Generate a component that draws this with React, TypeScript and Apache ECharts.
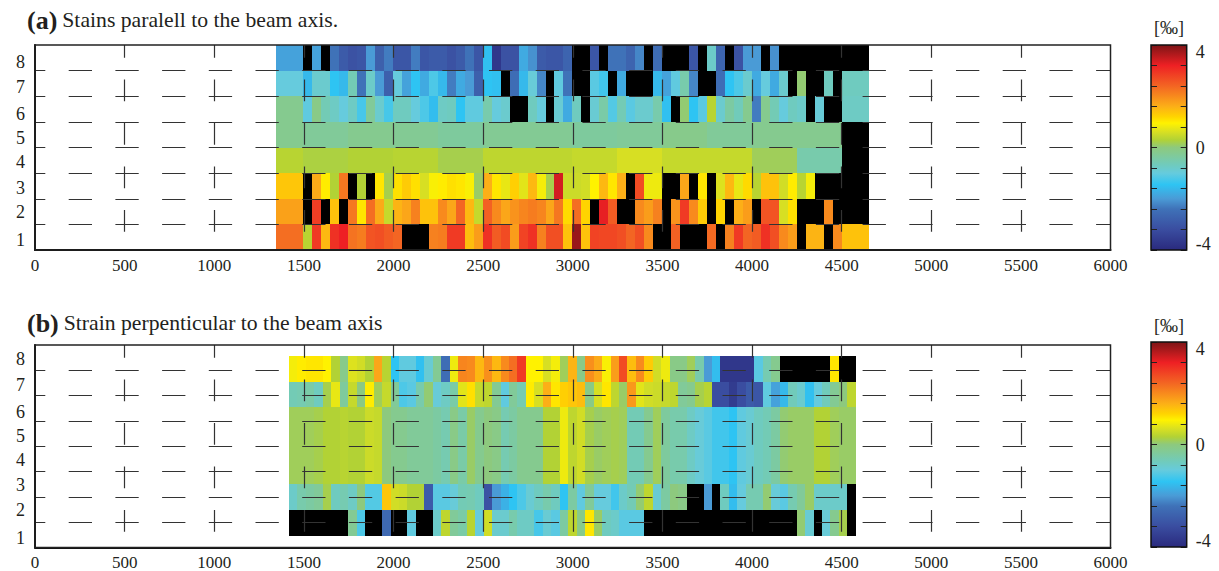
import React, { useEffect, useRef } from "react";
import * as echarts from "echarts";

// null = out of range (drawn black)
const _ = null;
const xTicksMax = 6000;
const aStart = 1345, aStep = 50.1;
const bStart = 1417, bStep = 47.2;

const aRow1 = [2.3,2.3,2.3,0.35,2.9,1.5,3.0,3.2,2.25,2.15,2.6,2.65,2.5,2.4,_,_,_,2.1,2.15,2.9,2.9,1.45,1.8,3.0,2.5,2.7,1.8,2.8,3.0,2.1,2.65,2.65,1.4,3.8,1.4,2.8,2.75,2.75,2.65,2.4,2.65,2.0,_,_,2.45,_,_,_,2.35,_,2.1,2.9,2.4,2.5,3.0,2.65,2.0,1.8,_,1.55,1.55,_,2.0,1.4,1.4,1.4];
const aRow2 = [1.75,1.75,1.75,_,2.85,_,1.4,_,2.2,1.05,2.3,1.65,0.45,1.55,1.7,2.1,1.4,1.4,2.0,1.7,2.4,1.5,0.45,2.45,2.0,1.7,1.9,2.05,2.15,2.05,1.7,2.2,1.15,2.3,1.2,_,3.25,2.5,_,_,2.0,1.8,2.1,_,1.9,2.9,2.0,1.3,_,1.2,_,1.6,1.8,_,2.6,2.6,0.6,1.1,_,_,_,2.0,_,_,_,_];
const aRow3 = [1.35,1.35,1.35,_,1.65,1.0,0.3,2.2,_,0.3,_,1.05,0.2,1.1,1.3,1.1,0.6,0.9,1.0,1.1,1.05,0.9,0.1,1.6,1.05,0.75,1.25,0.7,1.5,0.85,0.2,3.4,0.5,0.5,0.55,0.95,1.5,1.05,1.6,_,2.7,0.8,0.8,_,_,1.7,_,1.05,_,0.65,1.5,0.75,1.15,0.35,1.4,1.4,0.55,1.0,0.35,0.85,_,_,_,_,_,_];
const aRow4 = [0.35,0.35,0.35,0.25,0.25,0.25,0.25,0.25,0.3,0.3,0.3,0.3,0.3,0.35,0.35,0.35,0.35,0.35,0.2,0.2,0.2,0.2,0.2,0.4,0.4,0.4,0.4,0.4,0.4,0.4,0.4,0.4,0.4,0.45,0.45,0.45,0.45,0.45,0.6,0.6,0.6,0.6,0.6,0.45,0.45,0.45,0.45,0.45,0.45,0.45,0.45,0.45,0.45,0.15,0.15,0.15,0.15,0.15,-0.5,-0.5,-0.5,-0.5,-0.5,_,_,_];
const aRow5 = [-0.2,-0.2,-0.2,-0.3,-0.3,-0.3,-0.3,-0.3,-0.2,-0.2,-0.2,-0.2,-0.2,-0.25,-0.25,-0.25,-0.25,-0.25,-0.35,-0.35,-0.35,-0.35,-0.35,-0.25,-0.25,-0.25,-0.25,-0.25,-0.25,-0.25,-0.25,-0.25,-0.25,-0.35,-0.35,-0.35,-0.35,-0.35,-0.3,-0.3,-0.3,-0.3,-0.3,-0.15,-0.15,-0.15,-0.15,-0.15,-0.3,-0.3,-0.3,-0.3,-0.3,-0.2,-0.2,-0.2,-0.2,-0.2,-0.2,-0.2,-0.2,-0.2,-0.2,_,_,_];
const aRow6 = [-0.2,-0.2,-0.2,-1.05,-0.1,-0.6,-0.75,-1.0,-0.75,-1.25,-0.3,-0.85,-1.25,-0.7,-0.7,-1.0,-1.2,-1.55,-0.75,-0.7,-1.45,-1.05,-1.05,-0.5,-1.0,-0.85,_,_,-0.7,-1.0,_,-0.9,-1.8,-0.7,_,-0.9,-0.45,-1.15,-0.6,-1.1,-0.85,-0.85,-0.5,-1.5,_,0.05,-1.45,-1.1,0.35,-0.85,-0.4,-0.65,-0.2,-2.3,-0.2,-0.6,-1.0,-0.7,-0.8,_,-0.95,_,_,-0.75,-0.75,-0.75];
const aRow7 = [-1.0,-1.0,-1.0,-1.6,-0.85,-0.85,-1.45,-1.6,-0.6,-2.4,-0.8,-2.0,-2.8,-1.0,-1.9,-1.45,-1.8,-1.2,-1.6,-2.3,-1.8,-2.0,-2.8,-1.45,-1.5,_,-2.5,-1.6,-0.95,-2.2,_,-1.05,-2.4,_,_,-1.1,-1.3,_,-1.8,_,_,_,-1.6,-1.9,-1.05,-0.5,-2.2,_,_,-2.5,-1.45,-1.2,-0.85,-1.8,-1.0,-1.8,-0.85,_,0.05,_,_,-0.7,_,-0.7,-0.7,-0.7];
const aRow8 = [-1.9,-1.9,-1.9,_,-1.9,_,-2.4,-2.9,-3.1,-3.0,-2.0,-2.8,-2.3,-3.0,-3.0,-2.3,-3.0,-2.9,-2.9,-3.1,-2.9,-2.4,-3.0,-1.5,-3.7,-3.1,-3.1,-1.8,-2.1,-2.9,-3.0,-3.0,-2.7,_,_,-3.0,_,-2.4,-2.4,-2.7,-2.2,_,-2.5,_,_,_,-3.0,_,-0.8,-2.7,_,-3.1,-2.0,-2.0,_,-2.1,_,_,_,_,_,_,_,_,_,_];
const aRows = [aRow1, aRow2, aRow3, aRow4, aRow5, aRow6, aRow7, aRow8];

const bRow1 = [_,_,_,_,_,_,_,-0.25,-1.2,_,_,-2.6,_,_,-1.05,_,_,-0.8,0.4,-0.3,-0.45,0.35,-1.0,0.55,-0.85,-0.85,-0.5,-0.75,-0.75,-1.25,-0.9,-1.1,-0.4,0.4,-0.15,1.05,0.1,-0.7,-0.8,-1.1,-1.1,-1.1,_,_,_,_,_,_,_,_,_,_,_,_,_,_,_,_,_,_,0.05,-0.9,_,-0.95,-0.2,0.2,_];
const bRow2 = [-0.8,-0.5,-0.4,-0.3,0.2,-0.7,-0.55,-0.75,0.0,-1.15,-1.15,1.35,0.55,0.5,0.3,0.3,-2.9,-1.1,-1.1,-0.95,-0.6,-0.55,-0.7,-3.1,-2.0,-1.7,-1.45,-1.2,-0.9,-0.7,-0.5,-0.7,-1.45,-0.4,-1.05,-0.3,-1.0,-1.0,-1.3,-0.8,-0.6,0.05,0.4,-0.9,-0.4,0.0,-0.1,_,_,-2.0,_,-0.7,-1.55,-1.0,-0.55,-0.55,0.05,-0.95,-1.1,-0.55,-0.3,0.1,-0.8,-0.8,-0.8,-0.8,_];
const bRow3 = [0.15,0.15,0.15,0.2,0.3,0.3,0.35,0.3,0.3,0.5,0.45,0.0,-0.2,-0.2,-0.3,-0.3,-0.3,-0.4,-0.55,-0.1,-0.45,0.1,-0.2,0.0,-0.1,-0.55,-0.4,-0.2,-0.2,-0.2,0.3,0.3,0.8,0.4,0.55,0.2,0.1,0.15,0.2,0.15,-0.6,-0.6,-0.2,0.15,-0.35,-0.5,-0.5,-0.75,-0.95,-1.1,-1.3,-1.3,-1.45,-1.05,-0.9,-0.7,-0.6,-0.4,0.05,0.1,0.1,0.1,0.3,0.3,0.15,0.1,0.1];
const bRow4 = [0.15,0.15,0.15,0.2,0.3,0.3,0.35,0.3,0.3,0.5,0.45,0.0,-0.2,-0.2,-0.3,-0.3,-0.3,-0.4,-0.55,-0.1,-0.45,0.1,-0.2,0.0,-0.1,-0.55,-0.4,-0.2,-0.2,-0.2,0.3,0.3,0.8,0.4,0.55,0.2,0.1,0.15,0.2,0.15,-0.6,-0.6,-0.2,0.15,-0.35,-0.5,-0.5,-0.75,-0.95,-1.1,-1.3,-1.3,-1.45,-1.05,-0.9,-0.7,-0.6,-0.4,0.05,0.1,0.1,0.1,0.3,0.3,0.15,0.1,0.1];
const bRow5 = [0.15,0.15,0.15,0.2,0.3,0.3,0.35,0.3,0.3,0.5,0.45,0.0,-0.2,-0.2,-0.3,-0.3,-0.3,-0.4,-0.55,-0.1,-0.45,0.1,-0.2,0.0,-0.1,-0.55,-0.4,-0.2,-0.2,-0.2,0.3,0.3,0.8,0.4,0.55,0.2,0.1,0.15,0.2,0.15,-0.6,-0.6,-0.2,0.15,-0.35,-0.5,-0.5,-0.75,-0.95,-1.1,-1.3,-1.3,-1.45,-1.05,-0.9,-0.7,-0.6,-0.4,0.05,0.1,0.1,0.1,0.3,0.3,0.15,0.1,0.1];
const bRow6 = [-0.6,-0.55,-0.45,-0.7,0.2,0.75,-0.35,0.45,-0.05,1.0,0.15,0.45,-0.3,-1.2,-1.1,-0.5,0.05,-0.95,-0.75,-0.45,0.7,1.1,0.45,0.4,-0.25,-1.05,-0.3,-0.55,1.0,0.6,1.6,1.05,1.25,1.35,1.45,-0.1,0.6,1.05,0.4,0.1,1.85,0.7,0.55,0.5,0.45,0.4,-0.3,-0.2,0.2,0.35,-3.2,-3.2,-3.6,-3.2,-2.9,-3.0,-1.05,-1.9,-1.6,-0.65,-0.85,-1.5,-1.0,-0.65,-0.25,0.0,0.4];
const bRow7 = [0.85,1.0,1.05,1.05,0.95,0.3,-0.15,0.65,0.55,0.3,1.7,0.35,-1.45,-1.05,-1.05,-1.5,-0.9,-0.25,-2.5,0.8,2.05,2.0,1.5,1.95,1.5,2.0,2.3,2.9,0.95,0.95,0.6,0.85,0.15,1.55,-0.1,1.95,1.65,0.9,1.8,2.7,1.45,2.0,1.3,0.55,0.8,-0.1,-0.1,0.15,-0.5,-2.0,-1.55,-3.7,-3.7,-3.7,-3.7,-1.1,-0.55,-0.2,_,_,_,_,_,_,1.05,_,_];
const bRows = [bRow1, bRow2, bRow3, bRow4, bRow5, bRow6, bRow7];

const rowLabels = ["1", "2", "3", "4", "5", "6", "7", "8"];
const aLabelPositions = [0.39, 1.48, 2.42, 3.43, 4.37, 5.31, 6.36, 7.35];
const bLabelPositions = [0.37, 1.47, 2.45, 3.45, 4.41, 5.37, 6.42, 7.44];
const scaleLabelPositions = [3.72, 0, -3.78];
const scaleLabels = ["4", "0", "-4"];
const scaleExtent = [[-4, 4]];

const colourStops: [number, string][] = [
  [-4, "#2a2a7e"], [-3.2, "#3a4da0"], [-2.4, "#3f72b8"], [-2.0, "#4a9bd6"],
  [-1.45, "#2ec4f3"], [-1.0, "#66cbdd"], [-0.7, "#6fcbbf"], [-0.2, "#85ca8f"],
  [0, "#8dc97e"], [0.3, "#b2d235"], [0.6, "#d7df23"], [0.95, "#fff200"],
  [1.2, "#ffd400"], [1.6, "#fcaf17"], [2.4, "#f36523"], [3.2, "#ee2024"], [4, "#7d1416"],
];

function hex(c: string) {
  return [1, 3, 5].map((i) => parseInt(c.slice(i, i + 2), 16));
}
function colourOf(v: number) {
  if (v == null || Number.isNaN(v)) return "#000000";
  for (let i = 1; i < colourStops.length; i++) {
    const [v0, c0] = colourStops[i - 1];
    const [v1, c1] = colourStops[i];
    if (v <= v1) {
      const t = Math.max(0, (v - v0) / (v1 - v0));
      const a = hex(c0), b = hex(c1);
      return `rgb(${a.map((x, k) => Math.round(x + (b[k] - x) * t)).join(",")})`;
    }
  }
  return colourStops[colourStops.length - 1][1];
}

const SERIF = "'Liberation Serif', 'Times New Roman', serif";
const INK = "#231f20";

function cellData(rows: (number | null)[][], start: number, step: number, rowOffset: number, rowHeight: number) {
  const out: any[] = [];
  rows.forEach((row, r) => {
    row.forEach((v, i) => {
      out.push([
        start + i * step, start + (i + 1) * step,
        rowOffset + r * rowHeight, rowOffset + (r + 1) * rowHeight,
        v === null ? NaN : v,
      ]);
    });
  });
  return out;
}

const renderCell = (_p: any, api: any) => {
  const p0 = api.coord([api.value(0), api.value(2)]);
  const p1 = api.coord([api.value(1), api.value(3)]);
  const x = Math.round(p0[0]);
  const y = Math.round(p1[1]);
  return {
    type: "rect",
    shape: { x, y, width: Math.round(p1[0]) - x, height: Math.round(p0[1]) - y },
    style: { fill: colourOf(api.value(4)) },
  };
};

const renderScale = (_p: any, api: any) => {
  const p0 = api.coord([0, api.value(0)]);
  const p1 = api.coord([1, api.value(1)]);
  return {
    type: "rect",
    shape: { x: p0[0], y: p1[1], width: p1[0] - p0[0], height: p0[1] - p1[1] },
    style: {
      fill: new echarts.graphic.LinearGradient(0, 1, 0, 0,
        colourStops.map(([v, c]) => ({ offset: (v + 4) / 8, color: c }))),
    },
  };
};

function buildOption() {
  const plotGrid = (top: number, height: number) => ({
    left: 35, width: 1075.5, top, height, show: true, z: 6, outerBoundsMode: "none",
    borderColor: "#222", borderWidth: 1.5, backgroundColor: "transparent",
  });
  const barGrid = (top: number, height: number) => ({
    left: 1151, width: 35.7, top, height, show: true, z: 6, outerBoundsMode: "none",
    borderColor: "#111", borderWidth: 1.5, backgroundColor: "transparent",
  });
  const grid = [plotGrid(45, 205), plotGrid(345, 202.5), barGrid(45, 205), barGrid(342, 205)];

  const plotX = (gridIndex: number, margin: number) => ({
    type: "value", gridIndex, min: 0, max: xTicksMax, interval: 500, z: 5,
    axisLine: { show: true, onZero: false, lineStyle: { color: "#111", width: 2 } },
    axisTick: { show: false },
    axisLabel: { fontFamily: SERIF, fontSize: 17, lineHeight: 17, color: INK, margin, formatter: (v: number) => String(v) },
    splitLine: {
      show: true, showMinLine: false, showMaxLine: false,
      lineStyle: { color: "#333", width: 1.2, type: [21.7, 21.8], dashOffset: 8.7 },
    },
  });
  const hiddenX = (gridIndex: number) => ({
    type: "value", gridIndex, min: 0, max: 1, show: false,
  });
  const plotY = (gridIndex: number) => ({
    type: "value", gridIndex, min: 0, max: 8, interval: 1, z: 5,
    axisLine: { show: true, onZero: false, lineStyle: { color: "#111", width: 2 } },
    axisTick: { show: false },
    axisLabel: { show: false },
    splitLine: {
      show: true, showMinLine: false, showMaxLine: false,
      lineStyle: { color: "#333", width: 1.2, type: [23.3, 23.4], dashOffset: 13.3 },
    },
  });
  const labelY = (gridIndex: number, positions: number[]) => ({
    type: "value", gridIndex, min: 0, max: 8, position: "left",
    axisLine: { show: false }, axisTick: { show: false }, splitLine: { show: false },
    axisLabel: {
      show: true, customValues: positions,
      fontFamily: SERIF, fontSize: 18, color: INK, margin: 10,
      formatter: (v: number) => rowLabels[positions.indexOf(v)] ?? "",
    },
  });
  const barY = (gridIndex: number, position: string) => ({
    type: "value", gridIndex, min: -4, max: 4, interval: 0.8, position, z: 5,
    axisLine: { show: false },
    axisTick: { show: true, inside: true, length: 6, lineStyle: { color: "#222", width: 1 } },
    axisLabel: { show: false },
    splitLine: { show: false },
  });
  const barLabels = (gridIndex: number) => ({
    type: "value", gridIndex, min: -4, max: 4, position: "right",
    axisLine: { show: false }, axisTick: { show: false }, splitLine: { show: false },
    axisLabel: {
      show: true, customValues: scaleLabelPositions,
      fontFamily: SERIF, fontSize: 18, color: INK, margin: 9,
      formatter: (v: number) => scaleLabels[scaleLabelPositions.indexOf(v)] ?? "",
    },
  });

  const xAxis = [plotX(0, 7), plotX(1, 6), hiddenX(2), hiddenX(3)];
  const yAxis = [
    plotY(0), labelY(0, aLabelPositions), plotY(1), labelY(1, bLabelPositions),
    barY(2, "left"), barY(2, "right"), barLabels(2),
    barY(3, "left"), barY(3, "right"), barLabels(3),
  ];

  const cellSeries = (xi: number, yi: number, data: any[]) => ({
    type: "custom", coordinateSystem: "cartesian2d", xAxisIndex: xi, yAxisIndex: yi, z: 1,
    clip: false, silent: true, renderItem: renderCell,
    encode: { x: [0, 1], y: [2, 3] }, data,
  });
  const scaleSeries = (xi: number, yi: number) => ({
    type: "custom", coordinateSystem: "cartesian2d", xAxisIndex: xi, yAxisIndex: yi, z: 1,
    silent: true, renderItem: renderScale, encode: { y: [0, 1] }, data: scaleExtent,
  });

  const titleRich = {
    h: { fontFamily: SERIF, fontSize: 26, fontWeight: "bold", color: INK },
    t: { fontFamily: SERIF, fontSize: 21.7, fontWeight: "normal", color: INK },
  };
  const titleStyle = { fontWeight: "normal", rich: titleRich };
  const unit = { fontFamily: SERIF, fontSize: 18, fontWeight: "normal", color: INK };

  return {
    animation: false,
    backgroundColor: "#ffffff",
    title: [
      { text: "{h|(a)} {t|Stains paralell to the beam axis.}", left: 27, top: 7, padding: 0, textStyle: titleStyle },
      { text: "{h|(b)} {t|Strain perpenticular to the beam axis}", left: 27, top: 310, padding: 0, textStyle: titleStyle },
      { text: "[‰]", left: 1154, top: 19, padding: 0, textStyle: unit },
      { text: "[‰]", left: 1154, top: 317, padding: 0, textStyle: unit },
    ],
    grid, xAxis, yAxis,
    series: [
      cellSeries(0, 0, cellData(aRows, aStart, aStep, 0, 1)),
      cellSeries(1, 2, cellData(bRows, bStart, bStep, 0.466, 1.0143)),
      scaleSeries(2, 4),
      scaleSeries(3, 7),
    ],
  };
}

export default function App() {
  const ref = useRef<HTMLDivElement>(null);
  useEffect(() => {
    document.body.style.margin = "0";
    const chart = echarts.init(ref.current!, undefined, { renderer: "svg" });
    chart.setOption(buildOption() as any);
    return () => chart.dispose();
  }, []);
  return <div ref={ref} style={{ width: 1219, height: 571 }} />;
}
